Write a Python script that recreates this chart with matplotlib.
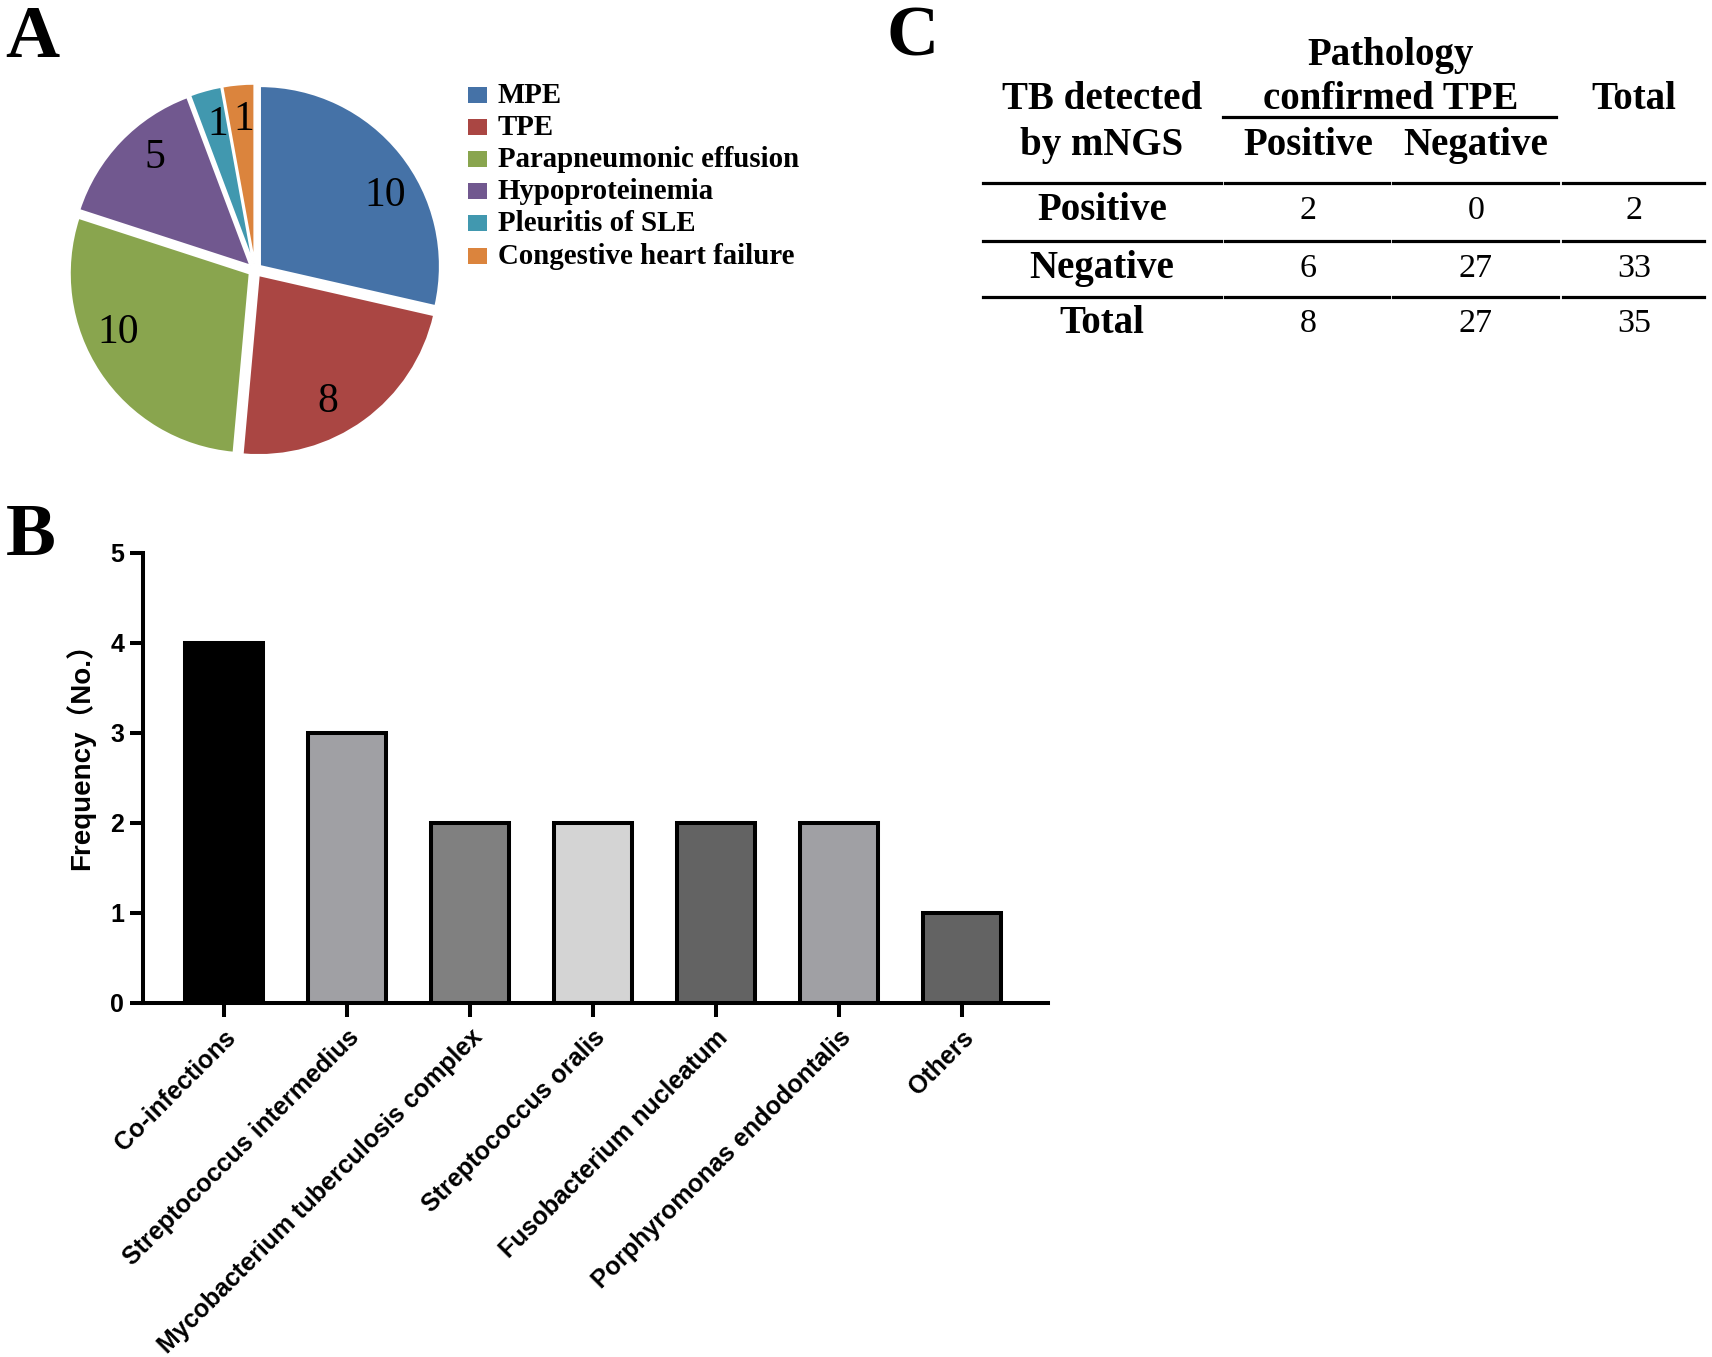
import matplotlib
matplotlib.use('Agg')
import matplotlib.pyplot as plt
import numpy as np
from matplotlib.patches import Rectangle
from matplotlib.lines import Line2D

W, H = 1712, 1357
DPI = 100

# ---------------- data ----------------
pie_labels = ['MPE', 'TPE', 'Parapneumonic effusion', 'Hypoproteinemia',
              'Pleuritis of SLE', 'Congestive heart failure']
pie_values = [10, 8, 10, 5, 1, 1]
pie_colors = ['#4572A7', '#AA4643', '#89A54E', '#71588F', '#4198AF', '#DB843D']

bar_categories = ['Co-infections', 'Streptococcus intermedius',
                  'Mycobacterium tuberculosis complex', 'Streptococcus oralis',
                  'Fusobacterium nucleatum', 'Porphyromonas endodontalis', 'Others']
bar_values = [4, 3, 2, 2, 2, 2, 1]
bar_colors = ['#000000', '#A0A0A4', '#808080', '#D4D4D4', '#636363', '#A0A0A4', '#636363']
bar_yticks = [0, 1, 2, 3, 4, 5]
bar_ylabel = 'Frequency（No.）'

table_corner = ['TB detected', 'by mNGS']
table_group = ['Pathology', 'confirmed TPE']
table_subcols = ['Positive', 'Negative']
table_total_header = 'Total'
table_row_labels = ['Positive', 'Negative', 'Total']
table_path_pos = [2, 6, 8]
table_path_neg = [0, 27, 27]
table_totals = [2, 33, 35]

# ---------------- figure ----------------
fig = plt.figure(figsize=(W / DPI, H / DPI), dpi=DPI)
SERIF = 'Liberation Serif'
SANS = 'Liberation Sans'


def fx(x):
    return x / W


def fy(y):
    return 1 - y / H


# panel letters
fig.text(fx(5), fy(57), 'A', fontsize=54, fontweight='bold', family=SERIF, va='baseline')
fig.text(fx(6), fy(555), 'B', fontsize=54, fontweight='bold', family=SERIF, va='baseline')
fig.text(fx(887), fy(56), 'C', fontsize=52, fontweight='bold', family=SERIF, va='baseline')

# ---------------- A: pie ----------------
R = 180
cx, cy = 255, 270
half = 1.1 * R
ax_pie = fig.add_axes([fx(cx - half), fy(cy + half), 2 * half / W, 2 * half / H])
total = sum(pie_values)
wedges, texts, autotexts = ax_pie.pie(
    pie_values, colors=pie_colors, startangle=90, counterclock=False,
    explode=[0.035] * len(pie_values),
    autopct=lambda p: f'{p * total / 100:.0f}', pctdistance=0.8,
    wedgeprops=dict(edgecolor='white', linewidth=1.5),
    textprops=dict(family=SERIF, fontsize=30))
# place value labels slightly clockwise of each wedge's middle (as in the original)
for w, t in zip(wedges, autotexts):
    ang = np.deg2rad(0.5 * (w.theta1 + w.theta2) - 0.09 * (w.theta2 - w.theta1))
    cxw, cyw = w.center
    t.set_position((cxw + 0.8 * np.cos(ang), cyw + 0.8 * np.sin(ang)))
ax_pie.set_xlim(-1.1, 1.1)
ax_pie.set_ylim(-1.1, 1.1)
ax_pie.set_aspect('equal')
ax_pie.axis('off')

# legend
for i, (lab, col) in enumerate(zip(pie_labels, pie_colors)):
    base = 103 + i * 32.1
    fig.patches.append(Rectangle((fx(468), fy(base)), 19 / W, 16 / H,
                                 transform=fig.transFigure, facecolor=col,
                                 edgecolor='none'))
    fig.text(fx(498), fy(base), lab, family=SERIF, fontweight='bold',
             fontsize=20.8, va='baseline', ha='left')

# ---------------- B: bars ----------------
ax_bar = fig.add_axes([fx(142.7), fy(1003), (1048 - 142.7) / W, 450 / H])
xpos = np.arange(len(bar_values))
ax_bar.bar(xpos, bar_values, width=0.63, color=bar_colors, edgecolor='black',
           linewidth=2.9)
ax_bar.set_xlim(-0.66, 6.7)
ax_bar.set_ylim(0, 5)
for s in ['top', 'right']:
    ax_bar.spines[s].set_visible(False)
for s in ['left', 'bottom']:
    ax_bar.spines[s].set_linewidth(2.9)
ax_bar.set_yticks(bar_yticks)
ax_bar.set_xticks(xpos)
ax_bar.tick_params(axis='both', width=2.9, labelsize=18)
ax_bar.tick_params(axis='y', length=9.4, pad=4)
ax_bar.tick_params(axis='x', length=10, pad=6)
ax_bar.set_xticklabels(bar_categories, rotation=45, ha='right', va='top',
                       rotation_mode='anchor', family=SANS, fontweight='bold')
for lab in ax_bar.get_yticklabels():
    lab.set_family(SANS)
    lab.set_fontweight('bold')
ax_bar.set_ylabel(bar_ylabel, family=[SANS, 'Noto Sans CJK SC'],
                  fontweight='bold', fontsize=20)
ax_bar.yaxis.set_label_coords(-0.0527, 0.562)

# ---------------- C: table ----------------
HDR = 28
VAL = 24.5


def ttext(x, ycen, s, size, bold):
    cap = (0.662 if bold else 0.676) * size * DPI / 72
    fig.text(fx(x), fy(ycen + cap / 2), str(s), ha='center', va='baseline',
             family=SERIF, fontsize=size,
             fontweight='bold' if bold else 'normal')


col_x = [1102, 1308, 1476, 1634]
ttext(col_x[0], 96, table_corner[0], HDR, True)
ttext(col_x[0], 142, table_corner[1], HDR, True)
ttext(1391, 52, table_group[0], HDR, True)
ttext(1391, 96, table_group[1], HDR, True)
ttext(col_x[1], 142, table_subcols[0], HDR, True)
ttext(col_x[2], 142, table_subcols[1], HDR, True)
ttext(col_x[3], 96, table_total_header, HDR, True)

row_y = [207, 265, 320]
for i, lab in enumerate(table_row_labels):
    ttext(col_x[0], row_y[i], lab, HDR, True)
    ttext(col_x[1], row_y[i], table_path_pos[i], VAL, False)
    ttext(col_x[2], row_y[i], table_path_neg[i], VAL, False)
    ttext(col_x[3], row_y[i], table_totals[i], VAL, False)

LW = 2.3
fig.add_artist(Line2D([fx(1223), fx(1556)], [fy(117), fy(117)],
                      transform=fig.transFigure, color='black', lw=LW))
segs = [(983, 1221), (1225, 1389), (1393, 1558), (1563, 1704)]
for yl in [183, 241, 297]:
    for a, b in segs:
        fig.add_artist(Line2D([fx(a), fx(b)], [fy(yl), fy(yl)],
                              transform=fig.transFigure, color='black', lw=LW))

fig.savefig('out.png', dpi=DPI)
